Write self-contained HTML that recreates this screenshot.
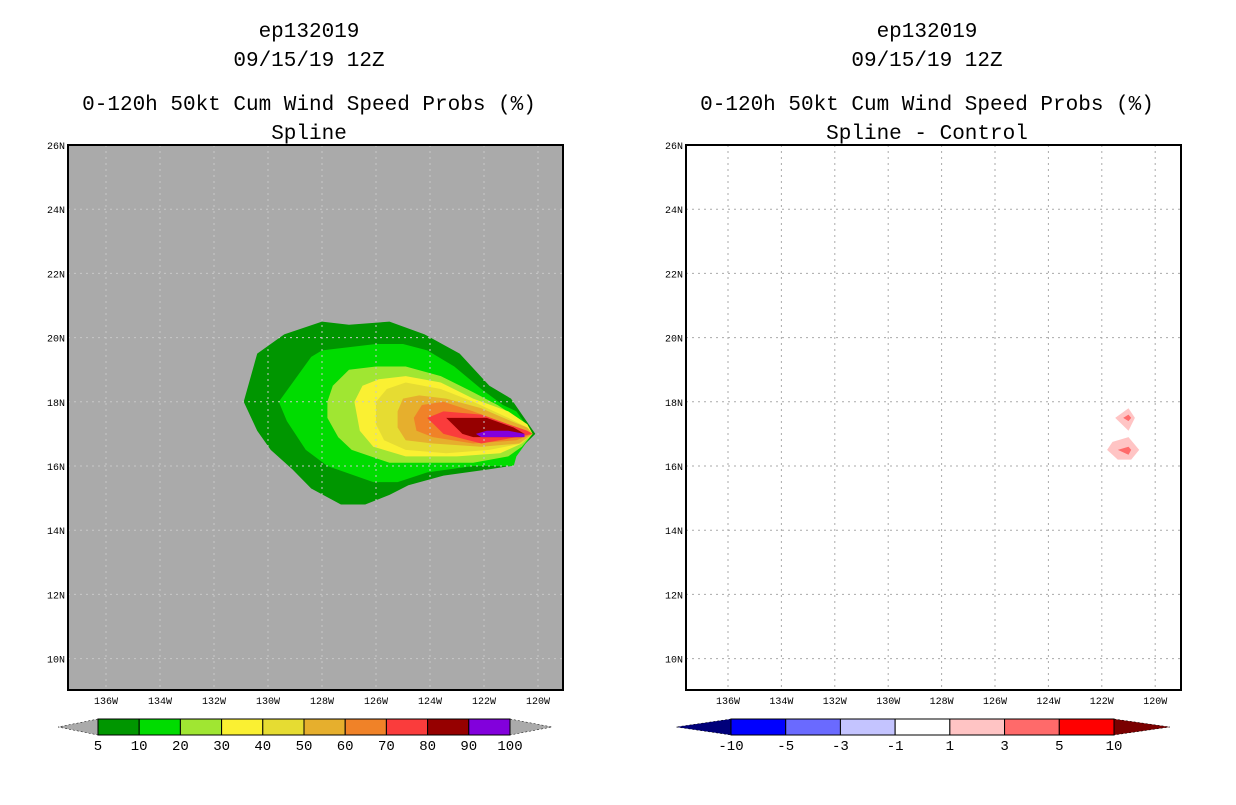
<!DOCTYPE html>
<html><head><meta charset="utf-8"><style>
body{margin:0;background:#fff;width:1236px;height:800px;overflow:hidden}
svg text{font-family:"Liberation Mono",monospace}
</style></head><body>
<svg width="1236" height="800" id="fig">
<g font-size="21" text-anchor="middle" fill="#000">
<text x="309" y="37">ep132019</text>
<text x="309" y="66">09/15/19 12Z</text>
<text x="309" y="110">0-120h 50kt Cum Wind Speed Probs (%)</text>
<text x="309" y="139">Spline</text>
</g>
<g font-size="21" text-anchor="middle" fill="#000">
<text x="927" y="37">ep132019</text>
<text x="927" y="66">09/15/19 12Z</text>
<text x="927" y="110">0-120h 50kt Cum Wind Speed Probs (%)</text>
<text x="927" y="139">Spline - Control</text>
</g>
</svg>
<script>
const lonTicks=[136,134,132,130,128,126,124,122,120];
const latTicks=[26,24,22,20,18,16,14,12,10];
const probLevels=[5,10,20,30,40,50,60,70,80,90,100];
const probColors=["#009600","#00dc00","#a0e632","#faf032","#e6dc32","#e6af2d","#f08228","#fa3c3c","#960000","#8200dc"];
const diffLevels=[-10,-5,-3,-1,1,3,5,10];
const diffColors=["#0000ff","#6a6aff","#c4c4ff","#ffffff","#ffc4c4","#ff6a6a","#ff0000"];
const c5=[[130.9,18.0],[130.4,19.5],[129.4,20.1],[128.0,20.5],[127.0,20.4],[125.5,20.5],[124.2,20.1],[122.9,19.5],[121.8,18.5],[121.0,18.1],[120.1,17.0],[120.7,16.5],[121.0,16.0],[121.8,15.9],[123.5,15.7],[124.8,15.4],[125.5,15.1],[126.4,14.8],[127.3,14.8],[128.4,15.3],[129.1,15.9],[129.9,16.5],[130.4,17.1]];
const c10=[[129.6,18.0],[128.4,19.4],[128.0,19.6],[126.0,19.8],[125.0,19.8],[124.1,19.6],[123.1,19.1],[122.1,18.4],[121.3,17.9],[120.8,17.7],[120.2,17.0],[120.8,16.3],[120.9,16.0],[122.4,16.0],[124.1,15.8],[125.2,15.5],[126.1,15.5],[127.8,16.0],[128.6,16.5],[129.3,17.4]];
const c20=[[127.8,18.0],[127.6,18.5],[127.0,19.0],[126.0,19.1],[124.9,19.1],[123.6,18.8],[122.4,18.3],[121.5,17.9],[120.4,17.3],[120.2,17.0],[120.6,16.6],[121.1,16.3],[122.4,16.1],[124.1,16.1],[125.5,16.1],[126.9,16.5],[127.4,16.9],[127.8,17.5]];
const c30=[[126.8,18.0],[126.5,18.5],[125.9,18.7],[124.9,18.8],[123.6,18.6],[122.4,18.1],[121.1,17.7],[120.4,17.3],[120.2,17.0],[120.6,16.7],[121.4,16.4],[123.0,16.3],[124.9,16.3],[126.1,16.6],[126.6,17.1]];
const c40=[[126.0,18.0],[125.6,18.4],[124.9,18.6],[123.6,18.4],[122.4,18.0],[121.1,17.5],[120.4,17.2],[120.2,17.0],[120.6,16.7],[121.8,16.5],[123.4,16.4],[124.9,16.5],[125.7,16.8],[126.0,17.3]];
const c50=[[125.2,17.7],[125.0,18.1],[124.4,18.2],[123.4,18.1],[122.1,17.8],[121.0,17.4],[120.4,17.2],[120.2,17.0],[120.7,16.7],[122.1,16.6],[123.9,16.7],[124.9,16.8],[125.2,17.2]];
const c60=[[124.6,17.5],[124.3,17.9],[123.5,18.0],[122.4,17.7],[121.1,17.3],[120.4,17.1],[120.2,17.0],[120.8,16.8],[122.4,16.7],[123.9,16.9],[124.5,17.1]];
const c70=[[124.1,17.5],[123.5,17.7],[122.1,17.6],[121.1,17.3],[120.4,17.1],[120.2,17.0],[120.8,16.9],[122.1,16.7],[123.5,17.0]];
const c80=[[123.4,17.5],[123.0,17.5],[121.9,17.5],[120.9,17.2],[120.5,17.0],[120.6,16.9],[122.4,16.9],[122.8,17.0]];
const c90=[[122.3,17.0],[121.9,17.1],[121.1,17.1],[120.5,17.0],[120.5,16.9],[122.1,16.9]];
const probContours=[c5,c10,c20,c30,c40,c50,c60,c70,c80,c90];
const d1a=[[121.5,17.5],[121.0,17.8],[120.76,17.5],[121.0,17.1]];
const d3a=[[121.2,17.5],[121.0,17.6],[120.9,17.5],[121.0,17.4]];
const d1b=[[121.8,16.5],[121.6,16.75],[121.0,16.9],[120.6,16.5],[120.9,16.2],[121.4,16.2]];
const d3b=[[121.4,16.5],[121.0,16.6],[120.9,16.5],[121.0,16.35]];
const diffContours=[[d1a,4],[d1b,4],[d3a,5],[d3b,5]];

const NS="http://www.w3.org/2000/svg";
const svg=document.getElementById('fig');
function mk(tag,attrs,parent){const e=document.createElementNS(NS,tag);for(const k in attrs)e.setAttribute(k,attrs[k]);(parent||svg).appendChild(e);return e;}
const panels=[{x0:68,x1:563,xa:106,sx:27,bg:"#aaaaaa",name:"left"},{x0:686,x1:1181,xa:728,sx:26.7,bg:"#ffffff",name:"right"}];
const Y0=145,Y1=690;
function yS(lat){return 145+(26-lat)*32.1;}
panels.forEach((p,pi)=>{
  const xS=lon=>p.xa+(136-lon)*p.sx;
  const g=mk('g',{});
  
  
  const bg=mk('rect',{x:p.x0,y:Y0,width:p.x1-p.x0,height:Y1-Y0,fill:p.bg},g);
  
  
  const pts=poly=>poly.map(q=>xS(q[0]).toFixed(1)+','+yS(q[1]).toFixed(1)).join(' ');
  if(pi===0){
    probContours.forEach((poly,i)=>{
      const e=mk('polygon',{points:pts(poly),fill:probColors[i]},g);
      
      
    });
  } else {
    diffContours.forEach(([poly,ci],i)=>{
      const e=mk('polygon',{points:pts(poly),fill:diffColors[ci]},g);
      
      
    });
  }
  const grid=pi===0?"#c8c8c8":"#aaaaaa";
  lonTicks.forEach(l=>{
    const x=xS(l);
    const e=mk('line',{x1:x,x2:x,y1:Y0,y2:Y1,stroke:grid,'stroke-width':1,'stroke-dasharray':'2,4'},g);
    
    
    const t=mk('text',{x:x,y:704,'font-size':10,'text-anchor':'middle',fill:'#000'},g);
    t.textContent=l+'W';
    
    
  });
  latTicks.forEach(l=>{
    const y=yS(l);
    if(l<26){
      const e=mk('line',{x1:p.x0,x2:p.x1,y1:y,y2:y,stroke:grid,'stroke-width':1,'stroke-dasharray':'2,4'},g);
      
      
    }
    const t=mk('text',{x:p.x0-3,y:y+4,'font-size':10,'text-anchor':'end',fill:'#000'},g);
    t.textContent=l+'N';
    
    
  });
  const fr=mk('rect',{x:p.x0,y:Y0,width:p.x1-p.x0,height:Y1-Y0,fill:'none',stroke:'#000','stroke-width':2},g);
  
  
});
// colorbars
function colorbar(levels,colors,xStart,xEnd,tipL,tipR,lc,rc,name){
  const g=mk('g',{});
  
  
  const y=719,h=16,n=levels.length-1,w=(xEnd-xStart)/n;
  const tl=mk('polygon',{points:`${xStart},${y} ${tipL},${y+h/2} ${xStart},${y+h}`,fill:lc,stroke:'#000','stroke-width':0.5,'stroke-dasharray':'2,2'},g);
  
  
  const tr=mk('polygon',{points:`${xEnd},${y} ${tipR},${y+h/2} ${xEnd},${y+h}`,fill:rc,stroke:'#000','stroke-width':0.5,'stroke-dasharray':'2,2'},g);
  
  
  colors.forEach((c,i)=>{
    const r=mk('rect',{x:xStart+i*w,y:y,width:w,height:h,fill:c,stroke:'#000','stroke-width':1},g);
    
    
  });
  levels.forEach((v,i)=>{
    const t=mk('text',{x:xStart+i*w,y:750,'font-size':14,'text-anchor':'middle',fill:'#000'},g);
    t.textContent=v;
    
    
  });
}
colorbar(probLevels,probColors,98,510,58,552,'#aaaaaa','#aaaaaa','prob-colorbar');
colorbar(diffLevels,diffColors,731,1114,676,1170,'#00007a','#7a0000','diff-colorbar');
</script>
</body></html>
